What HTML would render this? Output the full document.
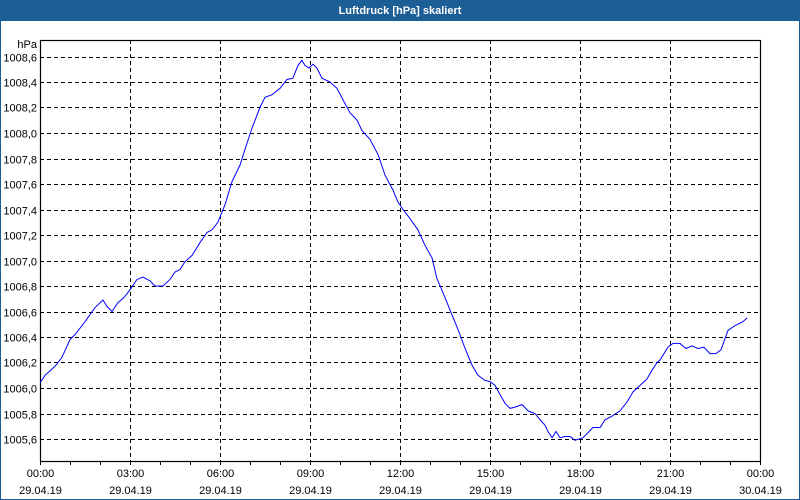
<!DOCTYPE html>
<html><head><meta charset="utf-8"><style>
html,body{margin:0;padding:0;background:#fff}
#wrap{position:relative;width:798px;height:498px;border:1px solid #1e5e96;overflow:hidden;background:#fff}
#title{position:absolute;left:0;top:0;width:798px;height:20px;background:#1c5e96;color:#fff;font:bold 11px "Liberation Sans",sans-serif;text-align:center;line-height:20px}
svg{position:absolute;left:-1px;top:-1px}
text{font-family:"Liberation Sans",sans-serif;font-size:11px;fill:#000}
</style></head><body>
<div id="wrap">
<div id="title">Luftdruck [hPa] skaliert</div>
<svg id="chart" width="800" height="500"></svg>
</div>
<script>
const hours=[0,0.17,0.5,0.73,1,1.17,1.5,1.83,2.1,2.23,2.4,2.6,2.8,3,3.23,3.43,3.67,3.83,4.1,4.33,4.5,4.67,4.83,5.07,5.33,5.57,5.73,5.93,6.17,6.4,6.67,6.83,7.07,7.33,7.5,7.73,8,8.23,8.43,8.6,8.73,8.83,8.97,9.1,9.23,9.4,9.67,9.9,10.1,10.33,10.57,10.73,11,11.27,11.5,11.77,11.93,12.1,12.33,12.6,12.83,13.07,13.23,13.43,13.67,13.93,14.17,14.4,14.6,14.83,15,15.17,15.33,15.5,15.67,15.83,16.07,16.27,16.5,16.67,16.83,16.93,17.07,17.2,17.33,17.5,17.67,17.83,18.1,18.27,18.43,18.67,18.83,19.07,19.33,19.57,19.77,20,20.23,20.4,20.57,20.67,20.93,21.1,21.33,21.53,21.73,21.93,22.13,22.33,22.53,22.7,22.93,23.17,23.43,23.57];
const pressure=[1006.04,1006.10,1006.17,1006.24,1006.38,1006.42,1006.52,1006.63,1006.69,1006.64,1006.60,1006.67,1006.71,1006.77,1006.85,1006.87,1006.84,1006.80,1006.80,1006.85,1006.91,1006.93,1006.99,1007.04,1007.14,1007.22,1007.24,1007.30,1007.44,1007.62,1007.75,1007.87,1008.04,1008.20,1008.28,1008.30,1008.35,1008.42,1008.43,1008.53,1008.57,1008.53,1008.51,1008.54,1008.51,1008.43,1008.40,1008.35,1008.26,1008.16,1008.10,1008.02,1007.95,1007.83,1007.67,1007.55,1007.46,1007.40,1007.33,1007.24,1007.12,1007.02,1006.86,1006.75,1006.61,1006.46,1006.31,1006.18,1006.10,1006.06,1006.05,1006.02,1005.95,1005.88,1005.84,1005.85,1005.87,1005.82,1005.80,1005.75,1005.71,1005.66,1005.61,1005.66,1005.61,1005.62,1005.62,1005.59,1005.61,1005.65,1005.69,1005.69,1005.75,1005.78,1005.82,1005.89,1005.97,1006.02,1006.07,1006.14,1006.20,1006.22,1006.32,1006.35,1006.35,1006.31,1006.33,1006.31,1006.32,1006.27,1006.27,1006.30,1006.45,1006.49,1006.52,1006.55];
const yTicks=[1005.6,1005.8,1006.0,1006.2,1006.4,1006.6,1006.8,1007.0,1007.2,1007.4,1007.6,1007.8,1008.0,1008.2,1008.4,1008.6];
const xTickHours=[0,3,6,9,12,15,18,21,24];
const xTimeLabels=["00:00","03:00","06:00","09:00","12:00","15:00","18:00","21:00","00:00"];
const xDateLabels=["29.04.19","29.04.19","29.04.19","29.04.19","29.04.19","29.04.19","29.04.19","29.04.19","30.04.19"];

const L=40,R=760,T=40,B=461;
const X=h=>L+h*(R-L)/24;
const Y=v=>56.5+(1008.6-v)*127.5;
const svg=document.getElementById('chart');
const NS='http://www.w3.org/2000/svg';
function mk(tag,attrs){const e=document.createElementNS(NS,tag);for(const k in attrs)e.setAttribute(k,attrs[k]);svg.appendChild(e);return e;}

yTicks.forEach(v=>{
  const y=Math.round(Y(v))+0.5;
  const g=mk('line',{x1:L,x2:R,y1:y,y2:y,stroke:'#000','stroke-dasharray':'4,3','stroke-width':1});
  
  
  const t=mk('text',{x:37,y:y+4,'text-anchor':'end'});
  t.textContent=v.toFixed(1).replace('.',',');
  
  
});
const u=mk('text',{x:37,y:48,'text-anchor':'end'});u.textContent='hPa';



for(let h=1;h<24;h++){
  const x=Math.round(X(h))+0.5;
  const tk=mk('line',{x1:x,x2:x,y1:B,y2:B+4,stroke:'#000'});
  
  
}
xTickHours.forEach((h,i)=>{
  const x=Math.round(X(h))+0.5;
  if(h>0&&h<24){
    const g=mk('line',{x1:x,x2:x,y1:T,y2:B,stroke:'#000','stroke-dasharray':'4,3'});
    
    
  }
  const tk=mk('line',{x1:x,x2:x,y1:B,y2:B+4,stroke:'#000'});
  
  
  const t1=mk('text',{x:x,y:477,'text-anchor':'middle'});t1.textContent=xTimeLabels[i];
  
  
  const t2=mk('text',{x:x,y:494,'text-anchor':'middle'});t2.textContent=xDateLabels[i];
  
  
});
const box=mk('rect',{x:L+0.5,y:T+0.5,width:R-L,height:B-T,fill:'none',stroke:'#000','stroke-width':1.2});


const pts=hours.map((h,i)=>X(h).toFixed(1)+','+Y(pressure[i]).toFixed(1)).join(' ');
const line=mk('polyline',{points:pts,fill:'none',stroke:'#0000ff','stroke-width':1});


</script>
</body></html>
